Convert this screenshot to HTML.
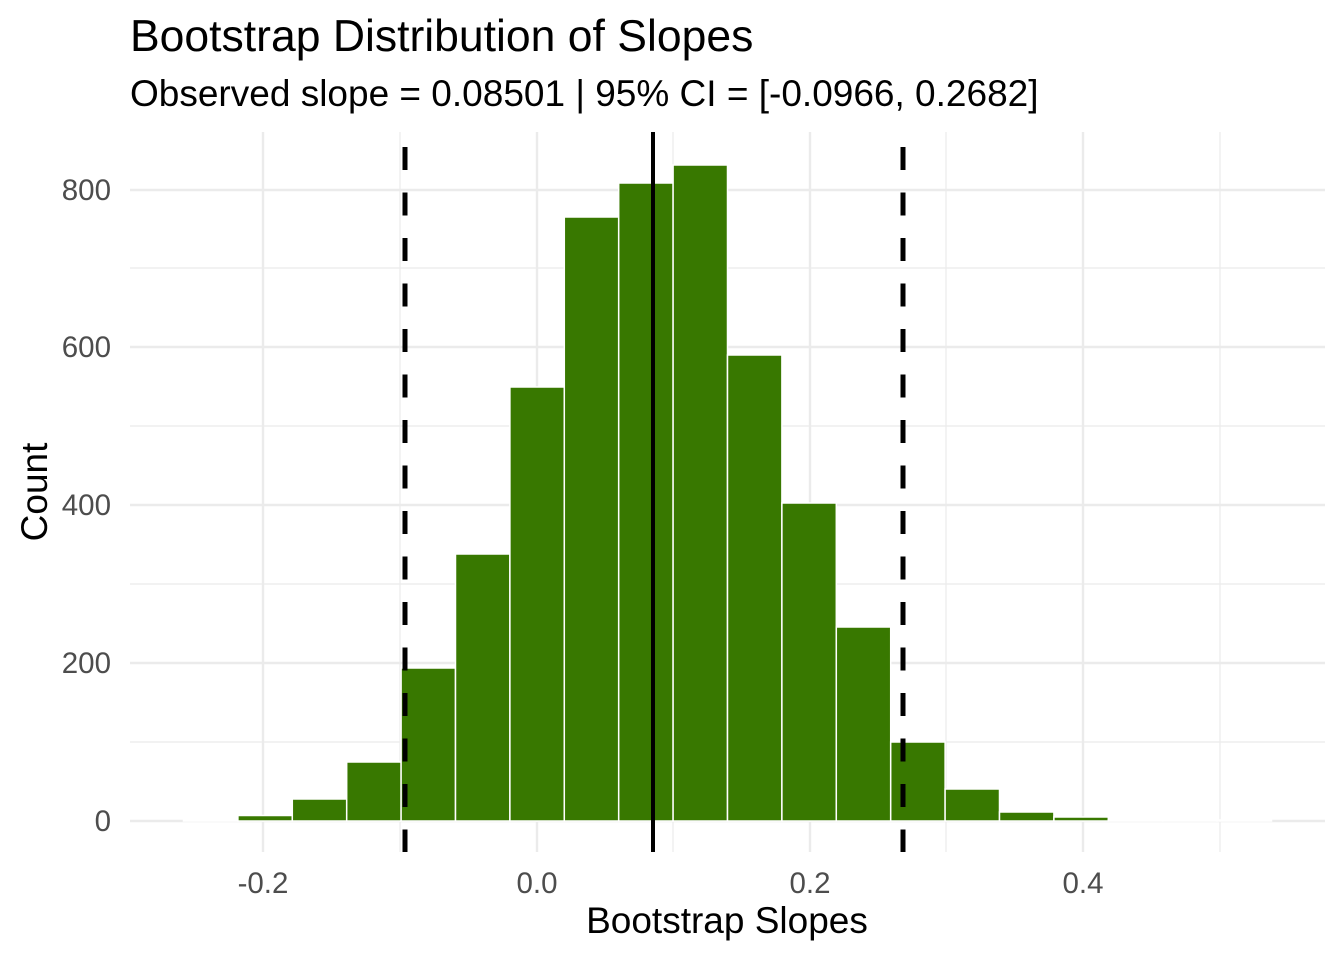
<!DOCTYPE html>
<html><head><meta charset="utf-8"><style>body{margin:0;background:#fff}svg{display:block}text{font-family:"Liberation Sans",Arial,sans-serif}</style></head>
<body>
<svg width="1344" height="960" viewBox="0 0 1344 960">
<rect width="1344" height="960" fill="#fff"/>
<g stroke="#ebebeb" stroke-width="1.2">
<line x1="130" x2="1325" y1="742" y2="742"/><line x1="130" x2="1325" y1="584" y2="584"/>
<line x1="130" x2="1325" y1="426" y2="426"/><line x1="130" x2="1325" y1="268" y2="268"/>
<line x1="400" x2="400" y1="132" y2="852"/><line x1="673" x2="673" y1="132" y2="852"/>
<line x1="946" x2="946" y1="132" y2="852"/><line x1="1220" x2="1220" y1="132" y2="852"/>
</g>
<g stroke="#ebebeb" stroke-width="2.4">
<line x1="130" x2="1325" y1="821" y2="821"/><line x1="130" x2="1325" y1="663" y2="663"/>
<line x1="130" x2="1325" y1="505" y2="505"/><line x1="130" x2="1325" y1="347" y2="347"/>
<line x1="130" x2="1325" y1="190" y2="190"/>
<line x1="263" x2="263" y1="132" y2="852"/><line x1="537" x2="537" y1="132" y2="852"/>
<line x1="810" x2="810" y1="132" y2="852"/><line x1="1083" x2="1083" y1="132" y2="852"/>
</g>
<g fill="#387800" stroke="#fff" stroke-width="1.5">
<rect x="183.5" y="820" width="54.4" height="1"/>
<rect x="237.9" y="815.5" width="54.4" height="5.5"/>
<rect x="292.3" y="799" width="54.4" height="22"/>
<rect x="346.7" y="762" width="54.4" height="59"/>
<rect x="401.1" y="668" width="54.4" height="153"/>
<rect x="455.5" y="554" width="54.4" height="267"/>
<rect x="509.9" y="387" width="54.4" height="434"/>
<rect x="564.3" y="217" width="54.4" height="604"/>
<rect x="618.7" y="183" width="54.4" height="638"/>
<rect x="673.1" y="165" width="54.4" height="656"/>
<rect x="727.5" y="355" width="54.4" height="466"/>
<rect x="781.9" y="503" width="54.4" height="318"/>
<rect x="836.3" y="627" width="54.4" height="194"/>
<rect x="890.7" y="742" width="54.4" height="79"/>
<rect x="945.1" y="789" width="54.4" height="32"/>
<rect x="999.5" y="812" width="54.4" height="9"/>
<rect x="1053.9" y="817" width="54.4" height="4"/>
<rect x="1108.3" y="820" width="54.4" height="1"/>
<rect x="1162.7" y="820" width="54.4" height="1"/>
<rect x="1217.1" y="820" width="54.4" height="1"/>
</g>
<g stroke="#000" stroke-width="5">
<line x1="405" x2="405" y1="147" y2="852" stroke-dasharray="23 22.5"/>
<line x1="903" x2="903" y1="147" y2="852" stroke-dasharray="23 22.5"/>
<line x1="653" x2="653" y1="132" y2="852" stroke-width="4"/>
</g>
<g font-size="29.5" fill="#4d4d4d" text-anchor="end">
<text x="111" y="831">0</text><text x="111" y="673">200</text><text x="111" y="515">400</text>
<text x="111" y="357">600</text><text x="111" y="200">800</text>
</g>
<g font-size="29.5" fill="#4d4d4d" text-anchor="middle">
<text x="263" y="893">-0.2</text><text x="537" y="893">0.0</text><text x="810" y="893">0.2</text><text x="1083" y="893">0.4</text>
</g>
<text x="727" y="933" font-size="37" text-anchor="middle">Bootstrap Slopes</text>
<text transform="translate(47,492) rotate(-90)" font-size="37" text-anchor="middle">Count</text>
<text x="130" y="51" font-size="44.5">Bootstrap Distribution of Slopes</text>
<text x="130" y="106" font-size="37">Observed slope = 0.08501 | 95% CI = [-0.0966, 0.2682]</text>
</svg>
</body></html>
